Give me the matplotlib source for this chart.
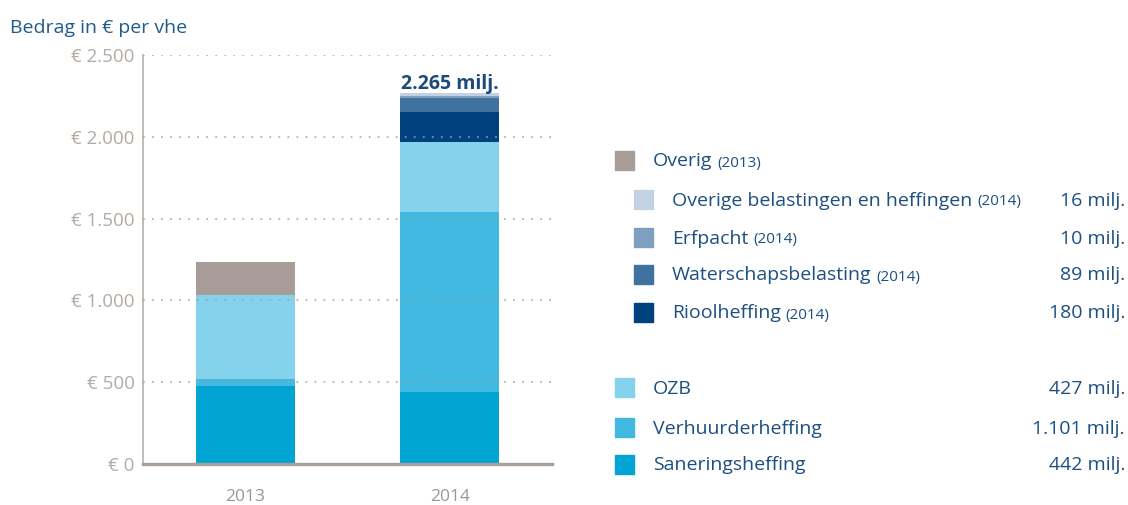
import matplotlib
matplotlib.use("Agg")
import matplotlib.pyplot as plt
from matplotlib.patches import Rectangle

plt.rcParams['font.family'] = ['Open Sans', 'DejaVu Sans']

years = ["2013", "2014"]
# stacked series, bottom to top (values in € per vhe)
series_names = ["Saneringsheffing", "Verhuurderheffing", "OZB", "Overig",
                "Rioolheffing", "Waterschapsbelasting", "Erfpacht",
                "Overige belastingen en heffingen"]
saneringsheffing = [478, 442]
verhuurderheffing = [43, 1101]
ozb = [511, 427]
overig = [202, 0]
rioolheffing = [0, 180]
waterschapsbelasting = [0, 89]
erfpacht = [0, 10]
overige_belastingen = [0, 16]
total_label = "2.265 milj."

yticks = [0, 500, 1000, 1500, 2000, 2500]
ytick_labels = ["€ 0", "€ 500", "€ 1.000", "€ 1.500", "€ 2.000", "€ 2.500"]

colors = {
    "Saneringsheffing": "#00a4d3",
    "Verhuurderheffing": "#41b9e0",
    "OZB": "#84d2eb",
    "Overig": "#a79c97",
    "Rioolheffing": "#00427e",
    "Waterschapsbelasting": "#41729f",
    "Erfpacht": "#7f9fc0",
    "Overige belastingen en heffingen": "#c2d2e3",
}

# legend entries: (label, suffix, value text, indent)
legend_top = [("Overig", "(2013)", "", 0),
              ("Overige belastingen en heffingen", "(2014)", "16 milj.", 1),
              ("Erfpacht", "(2014)", "10 milj.", 1),
              ("Waterschapsbelasting", "(2014)", "89 milj.", 1),
              ("Rioolheffing", "(2014)", "180 milj.", 1)]
legend_bottom = [("OZB", "", "427 milj.", 0),
                 ("Verhuurderheffing", "", "1.101 milj.", 0),
                 ("Saneringsheffing", "", "442 milj.", 0)]

W, H = 1128, 505
fig = plt.figure(figsize=(W / 100, H / 100), dpi=100)
ax = fig.add_axes([143 / W, (H - 464) / H, 409 / W, 409 / H])

data = [saneringsheffing, verhuurderheffing, ozb, overig, rioolheffing,
        waterschapsbelasting, erfpacht, overige_belastingen]
x = list(range(len(years)))
bottom = [0, 0]
for name, vals in zip(series_names, data):
    ax.bar(x, vals, width=0.485, bottom=bottom, color=colors[name],
           zorder=2, linewidth=0)
    bottom = [b + v for b, v in zip(bottom, vals)]

ax.text(1, bottom[1] + 26, total_label, ha="center", va="baseline",
        fontsize=14, fontweight="bold", color="#1b4a7b", zorder=5)

ax.set_xlim(-0.5, 1.5)
ax.set_ylim(0, 2500)
ax.set_yticks(yticks)
ax.set_yticklabels(ytick_labels)
ax.set_xticks(x)
ax.set_xticklabels(years)
ax.tick_params(axis="y", length=0, pad=6, labelsize=13.5, labelcolor="#b3aaa4")
ax.tick_params(axis="x", length=0, pad=18, labelsize=12.5, labelcolor="#9e9590")

for y in yticks[1:]:
    ax.axhline(y, color="#a89f99", linestyle=(0, (1, 4)), linewidth=1.3,
               alpha=0.8, zorder=3)
for s in ["top", "right"]:
    ax.spines[s].set_visible(False)
ax.spines["left"].set_color("#b8afa9")
ax.spines["left"].set_linewidth(1.2)
ax.spines["bottom"].set_color("#a89f99")
ax.spines["bottom"].set_linewidth(2.4)
ax.spines["bottom"].set_zorder(4)

# title
fig.text(10 / W, 1 - 28 / H, "Bedrag in € per vhe", fontsize=14,
         color="#1f5b8c", ha="left", va="center")

# legend overlay
lax = fig.add_axes([0, 0, 1, 1])
lax.set_xlim(0, W)
lax.set_ylim(H, 0)
lax.axis("off")
txtc = "#1d4f81"
renderer = fig.canvas.get_renderer()

def draw_rows(rows, ys):
    for (label, suffix, val, indent), y in zip(rows, ys):
        sx = 615 + indent * 19
        lax.add_patch(Rectangle((sx, y - 9.5), 19, 19, color=colors[label]))
        tx = 653 + indent * 19
        t = lax.text(tx, y + 6.5, label, fontsize=14, color=txtc,
                     ha="left", va="baseline")
        if suffix:
            bb = t.get_window_extent(renderer)
            x_end = bb.x1  # pixels, same as data x in lax
            lax.text(x_end + 5, y + 6.5, suffix, fontsize=11, color=txtc,
                     ha="left", va="baseline")
        if val:
            lax.text(1125, y + 6.5, val, fontsize=14, color=txtc,
                     ha="right", va="baseline")

draw_rows(legend_top, [160, 199, 237, 274, 312])
draw_rows(legend_bottom, [387, 427, 464])

fig.savefig("out.png", dpi=100)
